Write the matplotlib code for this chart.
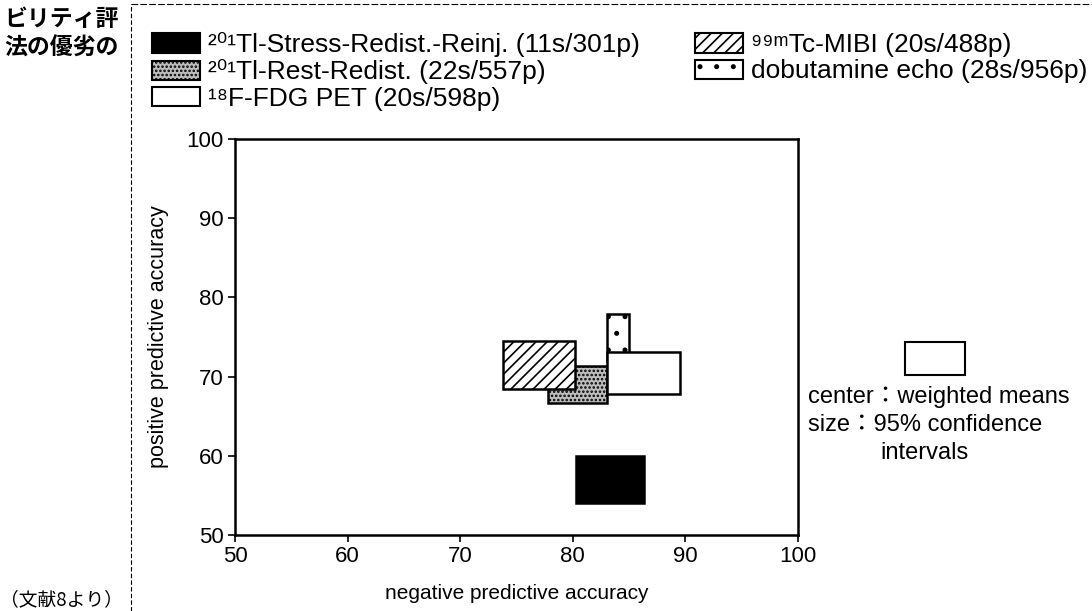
import matplotlib
matplotlib.use('Agg')
import matplotlib.pyplot as plt
from matplotlib.patches import Rectangle, Patch
from matplotlib.lines import Line2D
from matplotlib.font_manager import FontProperties

plt.rcParams['font.family'] = ['Liberation Sans', 'DejaVu Sans', 'Noto Sans CJK JP']
plt.rcParams['hatch.linewidth'] = 1.2

# methods, 95% CI bounds (negative / positive predictive accuracy)
methods = ['201Tl-Stress-Redist.-Reinj.', '201Tl-Rest-Redist.', '18F-FDG PET',
           '99mTc-MIBI', 'dobutamine echo']
legend_labels = ['²⁰¹Tl-Stress-Redist.-Reinj. (11s/301p)',
                 '²⁰¹Tl-Rest-Redist. (22s/557p)',
                 '¹⁸F-FDG PET (20s/598p)',
                 '⁹⁹ᵐTc-MIBI (20s/488p)',
                 'dobutamine echo (28s/956p)']
npa_lo = [80.3, 77.8, 83.0, 73.8, 83.0]
npa_hi = [86.3, 83.0, 89.5, 80.2, 85.0]
ppa_lo = [54.0, 66.7, 67.8, 68.4, 72.0]
ppa_hi = [60.0, 71.3, 73.1, 74.5, 77.9]

# style per method: facecolor, hatch, zorder
styles = {
    '201Tl-Stress-Redist.-Reinj.': ('black', None, 3),
    '201Tl-Rest-Redist.': ('#bdbdbd', '....', 2),
    '18F-FDG PET': ('white', None, 5),
    '99mTc-MIBI': ('white', '///', 3),
    'dobutamine echo': ('white', '.', 4),
}

ticks = [50, 60, 70, 80, 90, 100]

fig = plt.figure(figsize=(10.92, 6.11), dpi=100)
ax = fig.add_axes([0.2152, 0.1244, 0.5156, 0.6481])

for i, m in enumerate(methods):
    fc, hatch, z = styles[m]
    ax.add_patch(Rectangle((npa_lo[i], ppa_lo[i]), npa_hi[i] - npa_lo[i],
                           ppa_hi[i] - ppa_lo[i], facecolor=fc, hatch=hatch,
                           edgecolor='black', linewidth=1.8, zorder=z))

ax.set_xlim(50, 100)
ax.set_ylim(50, 100)
ax.set_xticks(ticks)
ax.set_yticks(ticks)
ax.tick_params(labelsize=16, length=5, width=1.2, direction='out', pad=3)
for s in ax.spines.values():
    s.set_linewidth(1.8)
ax.set_xlabel('negative predictive accuracy', fontsize=15, labelpad=12)
ax.set_ylabel('positive predictive accuracy', fontsize=15.5, labelpad=13)

handles = []
for m in methods:
    fc, hatch, z = styles[m]
    handles.append(Patch(facecolor=fc, hatch=hatch, edgecolor='black', linewidth=1.5))
fig.legend(handles, legend_labels, loc='upper left', bbox_to_anchor=(0.139, 0.947),
           ncol=2, frameon=False, prop=FontProperties(size=19),
           handlelength=1.82, handleheight=0.76, handletextpad=0.3,
           labelspacing=0.08, columnspacing=2.1, borderaxespad=0, borderpad=0)

# key box on the right
fig.patches.append(Rectangle((905 / 1092, 1 - 375 / 611), 60 / 1092, 33 / 611,
                             transform=fig.transFigure, facecolor='white',
                             edgecolor='black', linewidth=1.5))
fig.text(808 / 1092, 1 - 397 / 611, 'center：weighted means', fontsize=17, va='center')
fig.text(808 / 1092, 1 - 425 / 611, 'size：95% confidence', fontsize=17, va='center')
fig.text(880 / 1092, 1 - 453 / 611, 'intervals', fontsize=17, va='center')

# page fragments
fig.text(119 / 1092, 1 - 20 / 611, 'ビリティ評', fontsize=16.5, weight='bold',
         ha='right', va='center', family=['Noto Sans CJK JP'])
fig.text(119 / 1092, 1 - 48 / 611, '法の優劣の', fontsize=16.5, weight='bold',
         ha='right', va='center', family=['Noto Sans CJK JP'])
fig.text(0.0, 1 - 600 / 611, '（文献8より）', fontsize=13.5, ha='left', va='center',
         family=['Noto Sans CJK JP'])
fig.lines.append(Line2D([131 / 1092, 131 / 1092], [0, 1 - 4 / 611], transform=fig.transFigure,
                        color='black', linewidth=0.8, linestyle=(0, (4, 2))))
fig.lines.append(Line2D([131 / 1092, 1], [1 - 4 / 611, 1 - 4 / 611], transform=fig.transFigure,
                        color='black', linewidth=0.8, linestyle=(0, (6, 2))))

fig.savefig('out.png', dpi=100)
